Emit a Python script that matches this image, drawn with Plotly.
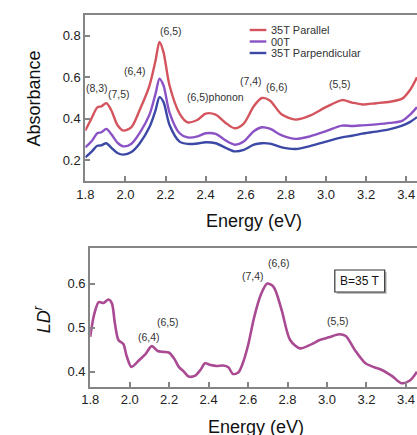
import plotly.graph_objects as go

# ---------------- data ----------------
energy_abs = [1.80, 1.83, 1.86, 1.88, 1.905, 1.93, 1.96, 1.99, 2.03, 2.07, 2.12, 2.15, 2.17, 2.19, 2.22, 2.27, 2.31,
              2.36, 2.40, 2.45, 2.50, 2.545, 2.59, 2.64, 2.68, 2.72, 2.78, 2.85, 2.92, 3.00, 3.08, 3.13, 3.18,
              3.25, 3.32, 3.38, 3.42, 3.454]
abs_parallel = [0.343, 0.40, 0.455, 0.46, 0.475, 0.44, 0.37, 0.343, 0.36, 0.44, 0.56, 0.68, 0.77, 0.72, 0.56, 0.425, 0.383,
                0.395, 0.425, 0.42, 0.38, 0.354, 0.377, 0.46, 0.50, 0.488, 0.42, 0.396, 0.415, 0.456, 0.49, 0.478, 0.469,
                0.475, 0.482, 0.497, 0.54, 0.60]
abs_00t = [0.262, 0.29, 0.33, 0.335, 0.351, 0.325, 0.285, 0.267, 0.28, 0.33, 0.42, 0.52, 0.593, 0.56, 0.43, 0.33, 0.31,
           0.315, 0.33, 0.327, 0.295, 0.275, 0.29, 0.34, 0.359, 0.352, 0.32, 0.303, 0.315, 0.34, 0.367, 0.365, 0.368,
           0.373, 0.38, 0.39, 0.42, 0.456]
abs_perp = [0.214, 0.24, 0.27, 0.272, 0.282, 0.26, 0.235, 0.227, 0.24, 0.28, 0.36, 0.44, 0.504, 0.48, 0.37, 0.29, 0.279,
            0.281, 0.287, 0.282, 0.26, 0.243, 0.25, 0.275, 0.282, 0.28, 0.262, 0.254, 0.268, 0.29, 0.31, 0.318, 0.328,
            0.338, 0.35, 0.367, 0.385, 0.408]

energy_ld = [1.80, 1.82, 1.843, 1.867, 1.893, 1.91, 1.925, 1.943, 1.968, 1.985, 2.009, 2.05, 2.08, 2.112, 2.142, 2.17,
             2.20, 2.225, 2.249, 2.275, 2.299, 2.332, 2.36, 2.382, 2.41, 2.441, 2.473, 2.50, 2.523, 2.55, 2.573,
             2.60, 2.631, 2.665, 2.697, 2.73, 2.77, 2.813, 2.863, 2.92, 2.963, 3.01, 3.062, 3.095, 3.14, 3.195,
             3.24, 3.278, 3.33, 3.377, 3.42, 3.456]
ld_r = [0.479, 0.53, 0.558, 0.556, 0.564, 0.555, 0.51, 0.472, 0.463, 0.435, 0.411, 0.427, 0.44, 0.458, 0.447, 0.445,
        0.443, 0.43, 0.411, 0.40, 0.389, 0.391, 0.405, 0.419, 0.415, 0.413, 0.414, 0.41, 0.395, 0.398, 0.419,
        0.46, 0.524, 0.575, 0.60, 0.592, 0.54, 0.472, 0.453, 0.462, 0.472, 0.478, 0.485, 0.481, 0.45, 0.419,
        0.41, 0.404, 0.39, 0.374, 0.38, 0.40]

series_names = ["35T Parallel", "00T", "35T Parpendicular"]
series_colors = ["#d4545e", "#8a52c4", "#3c48a6"]
ld_color = "#aa4a92"

abs_ticks = [0.2, 0.4, 0.6, 0.8]
ld_ticks = [0.4, 0.5, 0.6]
e_ticks = [1.8, 2.0, 2.2, 2.4, 2.6, 2.8, 3.0, 3.2, 3.4]

top_labels = [("(8,3)", 90, 88), ("(7,5)", 112, 94), ("(6,4)", 129, 71), ("(6,5)", 166, 31),
              ("(6,5)phonon", 211, 97), ("(7,4)", 247, 81), ("(6,6)", 274, 87), ("(5,5)", 338, 84)]
bot_labels = [("(6,4)", 143, 337), ("(6,5)", 162, 322), ("(7,4)", 249, 276), ("(6,6)", 276, 263),
              ("(5,5)", 336, 321)]

# ---------------- figure ----------------
W, H = 417, 435
FONT = "Liberation Sans, Arial, sans-serif"
AX = "#858585"

def px(x):
    return x / W

def py(y):
    return 1 - y / H

fig = go.Figure()
for name, vals, col in zip(series_names, [abs_parallel, abs_00t, abs_perp], series_colors):
    fig.add_trace(go.Scatter(x=energy_abs, y=vals, name=name, mode="lines",
                             line=dict(color=col, width=2.4, shape="spline", smoothing=0.8),
                             xaxis="x", yaxis="y", showlegend=False))
fig.add_trace(go.Scatter(x=energy_ld, y=ld_r, name="LD^r", mode="lines",
                         line=dict(color=ld_color, width=2.6, shape="spline", smoothing=0.8),
                         xaxis="x2", yaxis="y2", showlegend=False))

axis_common = dict(showgrid=False, zeroline=False, showline=True, linecolor=AX, linewidth=2,
                   ticks="inside", ticklen=5, tickwidth=1.5, tickcolor=AX,
                   tickfont=dict(family=FONT, size=13, color="#222"))

fig.update_layout(
    width=W, height=H, margin=dict(l=0, r=0, t=0, b=0),
    paper_bgcolor="white", plot_bgcolor="white",
    xaxis=dict(domain=[px(78), 1], anchor="y", range=[1.8, 3.454], tickvals=e_ticks,
               ticktext=[f"{v:.1f}" for v in e_ticks], mirror=True, **axis_common),
    yaxis=dict(domain=[py(181), py(15)], anchor="x", range=[0.1, 0.9], tickvals=abs_ticks,
               ticktext=[f"{v:.1f}" for v in abs_ticks], **axis_common),
    xaxis2=dict(domain=[px(83), 1], anchor="y2", range=[1.8, 3.456], tickvals=e_ticks,
                ticktext=[f"{v:.1f}" for v in e_ticks], mirror=True, **axis_common),
    yaxis2=dict(domain=[py(386.7), py(248.3)], anchor="x2", range=[0.366, 0.68], tickvals=ld_ticks,
                ticktext=[f"{v:.1f}" for v in ld_ticks], **axis_common),
    showlegend=False,
)

ann = []
# axis titles
ann.append(dict(text="Absorbance", x=px(26), y=py(98), textangle=-90, font=dict(family=FONT, size=18, color="#111")))
ann.append(dict(text="Energy (eV)", x=px(250), y=py(221), font=dict(family=FONT, size=18, color="#111")))
ann.append(dict(text="Energy (eV)", x=px(252), y=py(427), font=dict(family=FONT, size=18, color="#111")))
ann.append(dict(text="<i>LD</i><sup><i>r</i></sup>", x=px(34), y=py(319), textangle=-90,
                font=dict(family=FONT, size=18, color="#111")))
for t, x, y in top_labels + bot_labels:
    ann.append(dict(text=t, x=px(x), y=py(y), font=dict(family=FONT, size=10.5, color="#333")))
# legend
for i, (name, col) in enumerate(zip(series_names, series_colors)):
    ry = 30 + i * 11.5
    fig.add_shape(type="line", xref="paper", yref="paper", x0=px(246), x1=px(263), y0=py(ry), y1=py(ry),
                  line=dict(color=col, width=2.4))
    ann.append(dict(text=name, x=px(266), y=py(ry), xanchor="left", font=dict(family=FONT, size=11, color="#333")))
# B=35 T box with shadow
fig.add_shape(type="rect", xref="paper", yref="paper", x0=px(335), x1=px(386), y0=py(294), y1=py(272),
              line=dict(width=0), fillcolor="#bdbdbd")
fig.add_shape(type="rect", xref="paper", yref="paper", x0=px(333), x1=px(384), y0=py(292), y1=py(270),
              line=dict(width=1.2, color="#333"), fillcolor="white")
ann.append(dict(text="B=35 T", x=px(358.5), y=py(281), font=dict(family=FONT, size=12, color="#111")))

for a in ann:
    a.setdefault("xref", "paper")
    a.setdefault("yref", "paper")
    a.setdefault("showarrow", False)
    a.setdefault("xanchor", "center")
    a.setdefault("yanchor", "middle")
fig.update_layout(annotations=ann)

fig.write_html("out.html")
